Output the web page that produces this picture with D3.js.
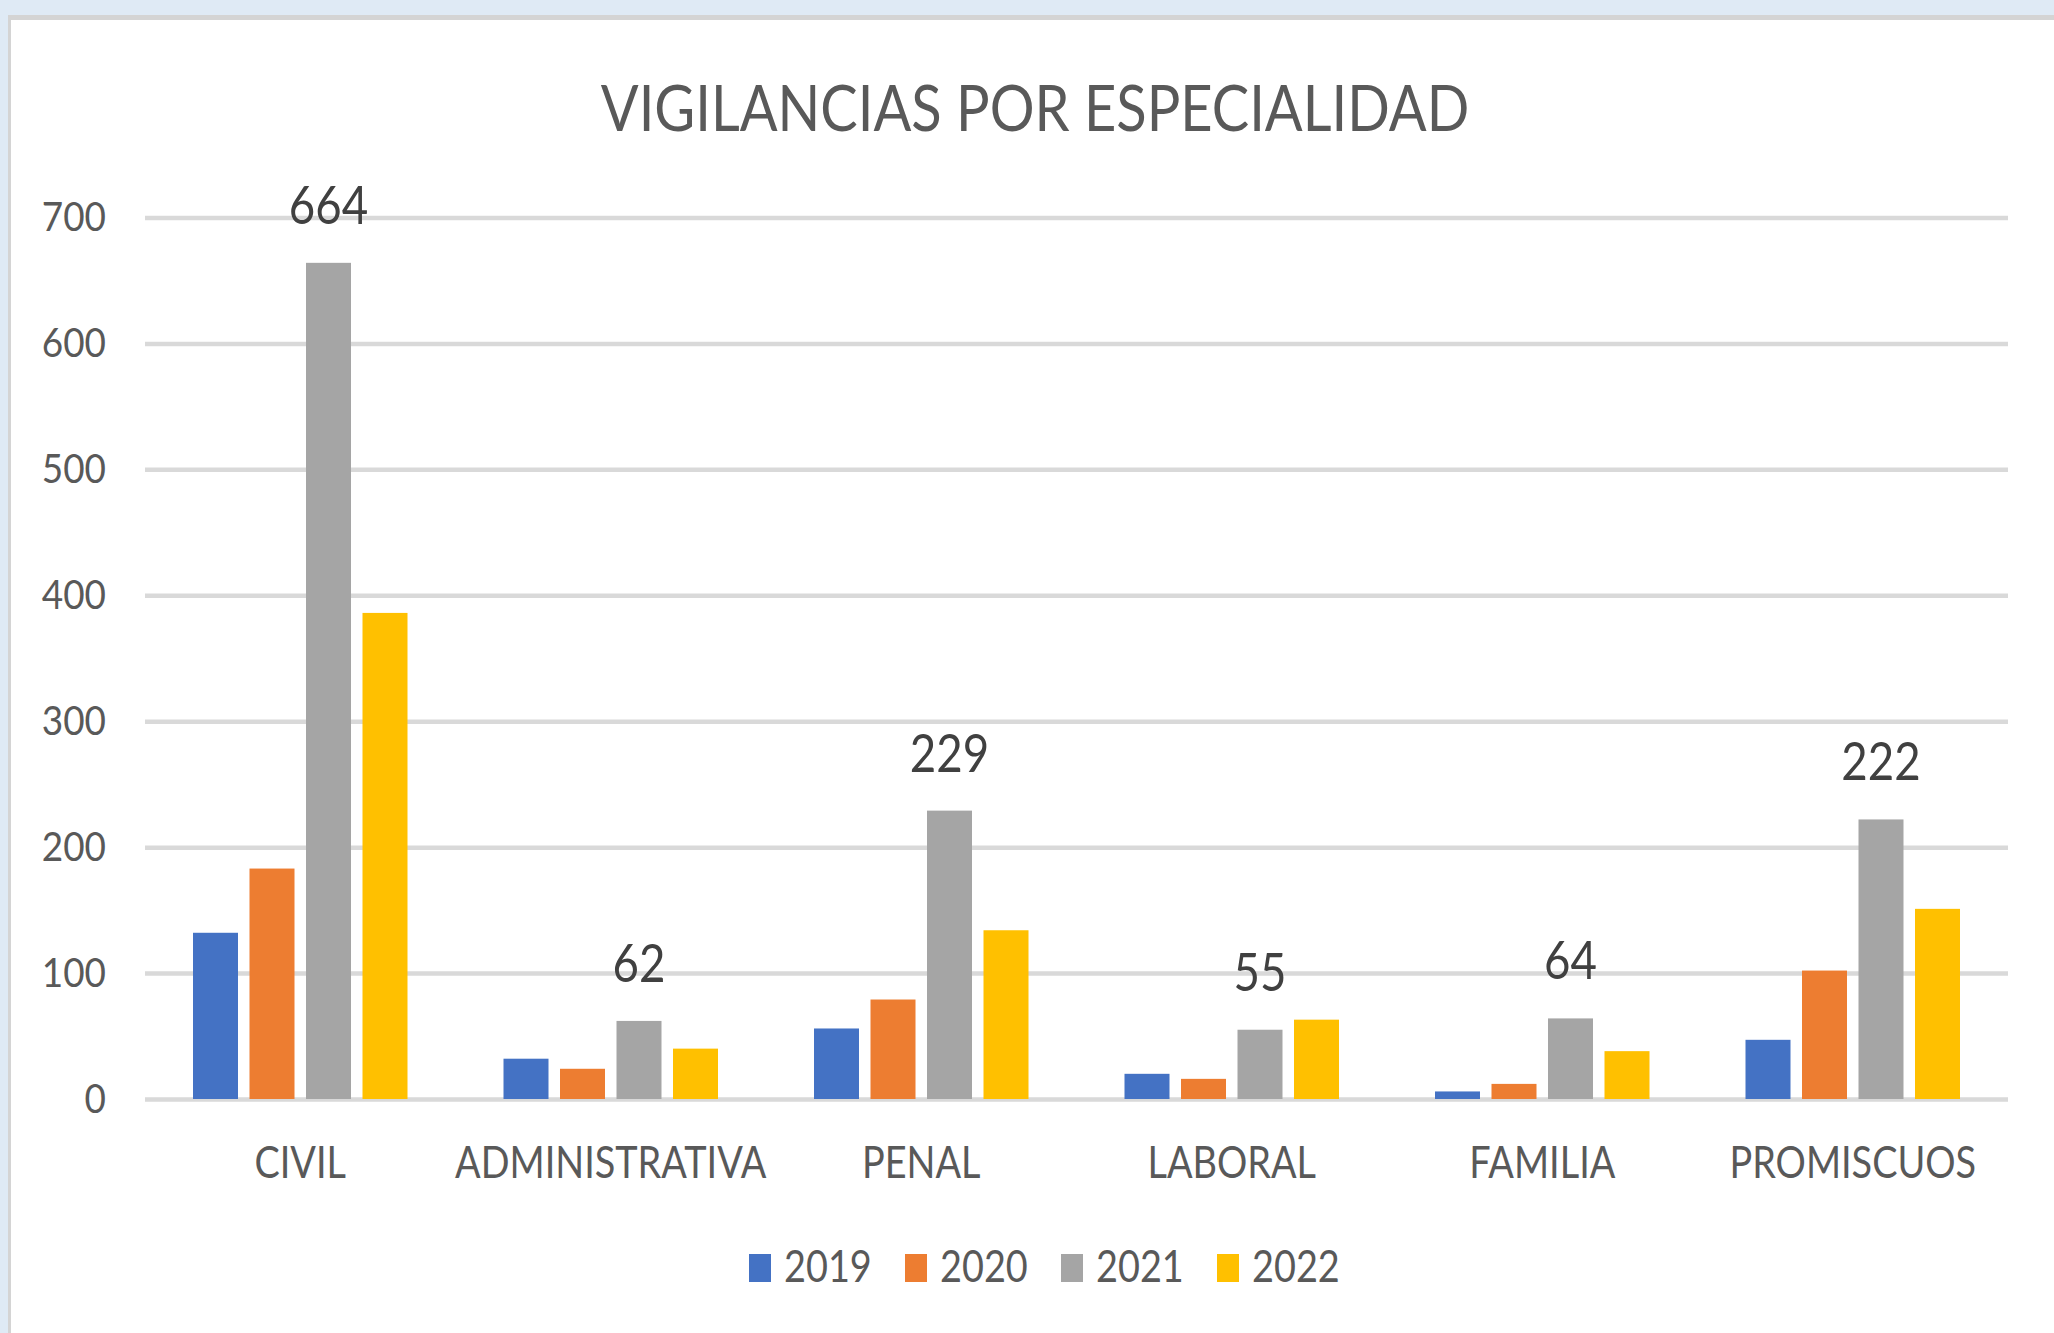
<!DOCTYPE html>
<html>
<head>
<meta charset="utf-8">
<script src="https://cdn.jsdelivr.net/npm/d3@7"></script>
<style>
  html, body { margin: 0; padding: 0; background: #dfeaf5; }
  #chart svg { display: block; }
  text { font-family: Lato, "Open Sans", sans-serif; }
</style>
</head>
<body>
<div id="chart"></div>
<script>
// --------------------------------------
//  Data
// --------------------------------------

const categories = ["CIVIL", "ADMINISTRATIVA", "PENAL", "LABORAL", "FAMILIA", "PROMISCUOS"];
const years = ["2019", "2020", "2021", "2022"];
const v2019 = [132, 32, 56, 20, 6, 47];
const v2020 = [183, 24, 79, 16, 12, 102];
const v2021 = [664, 62, 229, 55, 64, 222];
const v2022 = [386, 40, 134, 63, 38, 151];
const yTicks = [0, 100, 200, 300, 400, 500, 600, 700];
const labelledYear = "2021";

const seriesValues = {"2019": v2019, "2020": v2020, "2021": v2021, "2022": v2022};
const rows = categories.map((c, i) => ({
  cat: c,
  vals: years.map(yr => ({year: yr, value: seriesValues[yr][i]}))
}));

// --------------------------------------
//  Canvas
// --------------------------------------

const width = 2054;
const height = 1333;
const plot = {left: 145, right: 2008, top: 217.5, bottom: 1099};
const condense = 0.86;

const svg = d3.select("#chart")
  .append("svg")
    .attr("width", width)
    .attr("height", height);

// frame: light blue band, grey border, white panel
svg.append("rect").attr("x", 0).attr("y", 0).attr("width", width).attr("height", height).attr("fill", "#dfeaf5");
svg.append("rect").attr("x", 8).attr("y", 15).attr("width", width - 8).attr("height", height - 15).attr("fill", "#d4d4d4");
svg.append("rect").attr("x", 11).attr("y", 20).attr("width", width - 11).attr("height", height - 20).attr("fill", "#ffffff");

// squeeze text a bit so Lato reads like the narrower original face
function squeeze(sel, k) {
  sel.each(function() {
    const w = this.getComputedTextLength();
    d3.select(this).attr("textLength", w * k).attr("lengthAdjust", "spacingAndGlyphs");
  });
}

// --------------------------------------
//  Scales
// --------------------------------------

const y = d3.scaleLinear()
    .domain([0, 700])
    .range([plot.bottom, plot.top]);

const x0 = d3.scaleBand()
    .domain(categories)
    .range([plot.left, plot.right])
    .padding(0);

const inner = 226;
const x1 = d3.scaleBand()
    .domain(years)
    .range([(x0.bandwidth() - inner) / 2, (x0.bandwidth() + inner) / 2])
    .paddingInner(0.2035)
    .paddingOuter(0.10175);

const color = d3.scaleOrdinal()
    .domain(years)
    .range(["#4472c4", "#ed7d31", "#a5a5a5", "#ffc000"]);

// --------------------------------------
//  Axes
// --------------------------------------

const yAxis = svg.append("g")
    .attr("class", "y-axis")
    .attr("transform", `translate(${plot.left}, 0)`)
    .call(d3.axisLeft(y)
        .tickValues(yTicks)
        .tickSize(-(plot.right - plot.left))
        .tickPadding(39)
        .tickFormat(d3.format("d")));

yAxis.select(".domain").remove();
yAxis.selectAll(".tick line").attr("stroke", "#d9d9d9").attr("stroke-width", 4.5);
yAxis.selectAll(".tick text")
    .attr("fill", "#595959")
    .style("font-size", "41px")
    .attr("font-family", "Lato");
squeeze(yAxis.selectAll(".tick text"), 0.9);

const xAxis = svg.append("g")
    .attr("class", "x-axis")
    .attr("transform", `translate(0, ${plot.bottom})`)
    .call(d3.axisBottom(x0).tickSize(0).tickPadding(48));

xAxis.select(".domain").remove();
xAxis.selectAll(".tick text")
    .attr("fill", "#595959")
    .style("font-size", "44px")
    .attr("font-family", "Lato");
squeeze(xAxis.selectAll(".tick text"), condense);

// --------------------------------------
//  Bars
// --------------------------------------

const groups = svg.selectAll(".group")
  .data(rows)
  .join("g")
    .attr("class", "group")
    .attr("transform", d => `translate(${x0(d.cat)}, 0)`);

groups.selectAll("rect")
  .data(d => d.vals)
  .join("rect")
    .attr("x", d => x1(d.year))
    .attr("y", d => y(d.value))
    .attr("width", x1.bandwidth())
    .attr("height", d => y(0) - y(d.value))
    .attr("fill", d => color(d.year));

const labels = groups.selectAll(".label")
  .data(d => d.vals.filter(v => v.year === labelledYear))
  .join("text")
    .attr("class", "label")
    .attr("x", d => x1(d.year) + x1.bandwidth() / 2)
    .attr("y", d => y(d.value) - 39)
    .attr("text-anchor", "middle")
    .attr("fill", "#404040")
    .style("font-size", "53px")
    .text(d => d.value);
squeeze(labels, condense);

// --------------------------------------
//  Title
// --------------------------------------

const title = svg.append("text")
    .attr("x", 1035)
    .attr("y", 131)
    .attr("text-anchor", "middle")
    .attr("fill", "#595959")
    .style("font-size", "64px")
    .text("VIGILANCIAS POR ESPECIALIDAD");
squeeze(title, 0.875);

// --------------------------------------
//  Legend
// --------------------------------------

const legend = svg.append("g")
    .attr("class", "legend")
    .attr("transform", "translate(749, 1254)");

const items = legend.selectAll(".item")
  .data(years)
  .join("g")
    .attr("class", "item")
    .attr("transform", (d, i) => `translate(${i * 156}, 0)`);

items.append("rect")
    .attr("width", 22)
    .attr("height", 28)
    .attr("fill", d => color(d));

const legendText = items.append("text")
    .attr("x", 35)
    .attr("y", 28)
    .attr("fill", "#595959")
    .style("font-size", "44px")
    .text(d => d);
squeeze(legendText, condense);
</script>
</body>
</html>
